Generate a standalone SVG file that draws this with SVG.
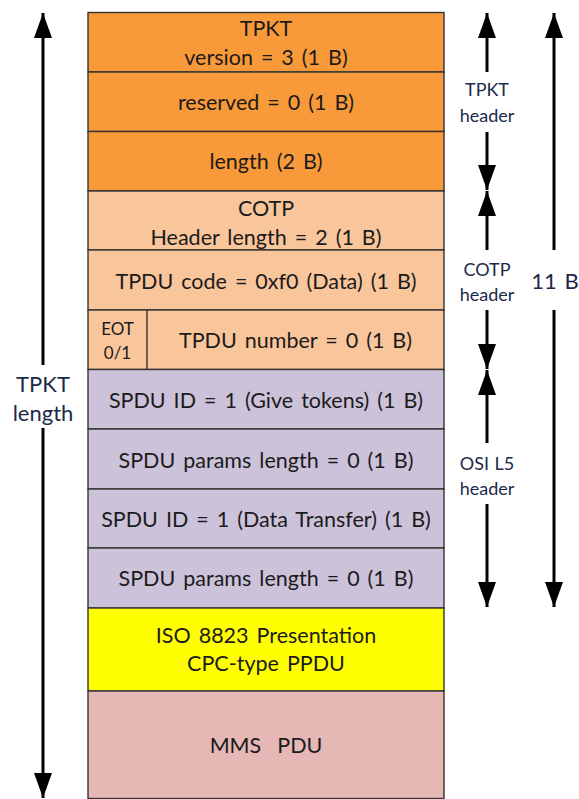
<svg xmlns="http://www.w3.org/2000/svg" width="579" height="799" viewBox="0 0 579 799">
<style>
.box{stroke:#333;stroke-width:1.4}
.o{fill:#F99A3A}.lo{fill:#F9C59B}.lv{fill:#CCC2DA}.y{fill:#FFFF00}.p{fill:#E5B8B6}
text{font-family:Lato,"Open Sans","Liberation Sans",sans-serif;fill:#1b1b1b;text-anchor:middle;dominant-baseline:middle}
.t{font-size:21.5px;word-spacing:2.5px}.s{font-size:17px}.lab{font-size:18px;fill:#1c2a4a;word-spacing:1px}.big{font-size:22px;fill:#1c2a4a;word-spacing:2px}
.ar{stroke:#000;stroke-width:3;fill:none}
</style>
<defs>
<marker id="h" viewBox="0 0 25 18" refX="25" refY="9" markerWidth="25" markerHeight="18" markerUnits="userSpaceOnUse" orient="auto">
<path d="M0,0L25,9L0,18z" fill="#000"/>
</marker>
</defs>
<g id="r1"><rect class="box o" x="88" y="12.5" width="356" height="59.5"/><text class="t" x="266" y="31">TPKT</text><text class="t" x="266" y="60">version = 3 (1 B)</text></g>
<g id="r2"><rect class="box o" x="88" y="72" width="356" height="59.5"/><text class="t" x="266" y="105">reserved = 0 (1 B)</text></g>
<g id="r3"><rect class="box o" x="88" y="131.5" width="356" height="59.5"/><text class="t" x="266" y="164">length (2 B)</text></g>
<g id="r4"><rect class="box lo" x="88" y="191" width="356" height="59"/><text class="t" x="266" y="211">COTP</text><text class="t" x="266" y="240">Header length = 2 (1 B)</text></g>
<g id="r5"><rect class="box lo" x="88" y="250" width="356" height="60"/><text class="t" x="266" y="284">TPDU code = 0xf0 (Data) (1 B)</text></g>
<g id="r6"><rect class="box lo" x="88" y="310" width="356" height="59.5"/><line class="box" x1="147" y1="310" x2="147" y2="369.5"/><text class="s" x="117.5" y="331">EOT</text><text class="s" x="117.5" y="355">0/1</text><text class="t" x="295.5" y="343">TPDU number = 0 (1 B)</text></g>
<g id="r7"><rect class="box lv" x="88" y="369.5" width="356" height="59.5"/><text class="t" x="266" y="403">SPDU ID = 1 (Give tokens) (1 B)</text></g>
<g id="r8"><rect class="box lv" x="88" y="429" width="356" height="60"/><text class="t" x="266" y="463">SPDU params length = 0 (1 B)</text></g>
<g id="r9"><rect class="box lv" x="88" y="489" width="356" height="59"/><text class="t" x="266" y="522">SPDU ID = 1 (Data Transfer) (1 B)</text></g>
<g id="r10"><rect class="box lv" x="88" y="548" width="356" height="60"/><text class="t" x="266" y="581">SPDU params length = 0 (1 B)</text></g>
<g id="r11"><rect class="box y" x="88" y="608" width="356" height="83"/><text class="t" x="266" y="638">ISO 8823 Presentation</text><text class="t" x="266" y="666">CPC-type PPDU</text></g>
<g id="r12"><rect class="box p" x="88" y="691" width="356" height="107.5"/><text class="t" x="266" y="748" xml:space="preserve">MMS  PDU</text></g>
<g id="labels">
<text class="big" x="43" y="386">TPKT</text><text class="big" x="43" y="415">length</text>
<text class="lab" x="487" y="91">TPKT</text><text class="lab" x="487" y="117">header</text>
<text class="lab" x="487" y="271">COTP</text><text class="lab" x="487" y="296">header</text>
<text class="lab" x="487" y="465">OSI L5</text><text class="lab" x="487" y="490">header</text>
<text class="big" x="555" y="283">11 B</text>
</g>
<g id="connectors">
<line class="ar" x1="43" y1="365" x2="43" y2="13" marker-end="url(#h)"/>
<line class="ar" x1="43" y1="428" x2="43" y2="798" marker-end="url(#h)"/>
<line class="ar" x1="487" y1="72" x2="487" y2="13" marker-end="url(#h)"/>
<line class="ar" x1="487" y1="132" x2="487" y2="190" marker-end="url(#h)"/>
<line class="ar" x1="487" y1="250" x2="487" y2="191" marker-end="url(#h)"/>
<line class="ar" x1="487" y1="310" x2="487" y2="369" marker-end="url(#h)"/>
<line class="ar" x1="487" y1="443" x2="487" y2="370" marker-end="url(#h)"/>
<line class="ar" x1="487" y1="504" x2="487" y2="607" marker-end="url(#h)"/>
<line class="ar" x1="554" y1="250" x2="554" y2="13" marker-end="url(#h)"/>
<line class="ar" x1="554" y1="310" x2="554" y2="607" marker-end="url(#h)"/>
</g>
</svg>
